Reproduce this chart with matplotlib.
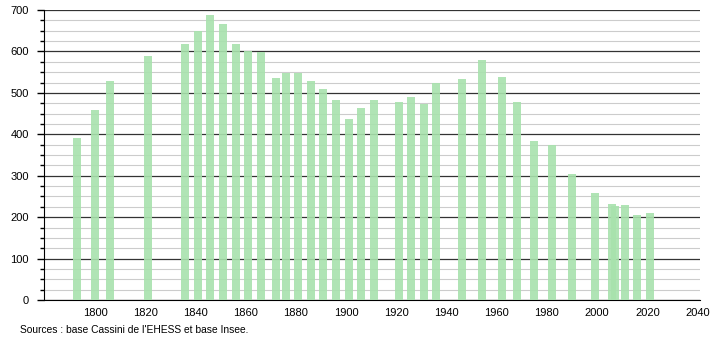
import matplotlib
matplotlib.use('Agg')
import matplotlib.pyplot as plt
from matplotlib.ticker import MultipleLocator

plt.rcParams['font.family'] = ['Liberation Sans', 'DejaVu Sans']
plt.rcParams['font.size'] = 8

# Recensements
years = [1793, 1800, 1806, 1821, 1836, 1841, 1846, 1851, 1856, 1861, 1866,
         1872, 1876, 1881, 1886, 1891, 1896, 1901, 1906, 1911, 1921, 1926,
         1931, 1936, 1946, 1954, 1962, 1968, 1975, 1982, 1990, 1999, 2006,
         2007, 2011, 2016, 2021]
population = [392, 459, 529, 590, 619, 649, 689, 665, 619, 602, 599,
              536, 549, 549, 529, 510, 483, 437, 464, 483, 478, 491,
              473, 524, 534, 580, 539, 478, 384, 373, 304, 259, 232,
              228, 230, 205, 210]
source = "Sources : base Cassini de l'EHESS et base Insee."

fig = plt.figure(figsize=(7.1, 3.4), dpi=100)
ax = fig.add_axes([0.062, 0.1176, 0.924, 0.853])

ax.bar(years, population, width=3.2, color='#a8e2ad', alpha=0.9, zorder=3)

ax.set_xlim(1779.7, 2041)
ax.set_ylim(0, 700)
ax.set_xticks(range(1800, 2041, 20))
ax.yaxis.set_major_locator(MultipleLocator(100))
ax.yaxis.set_minor_locator(MultipleLocator(25))

ax.grid(axis='y', which='major', color='#333333', linewidth=0.9, zorder=1)
ax.grid(axis='y', which='minor', color='#cccccc', linewidth=0.8, zorder=1)

for s in ['top', 'right']:
    ax.spines[s].set_visible(False)
ax.spines['left'].set_color('black')
ax.spines['bottom'].set_color('black')

ax.tick_params(axis='x', length=0, pad=6)
ax.tick_params(axis='y', which='major', length=5, width=1, pad=6)
ax.tick_params(axis='y', which='minor', length=3, width=1)

fig.text(0.028, 0.028, source, fontsize=7.4, ha='left', va='center')

plt.savefig('out.png', dpi=100)
plt.close()
